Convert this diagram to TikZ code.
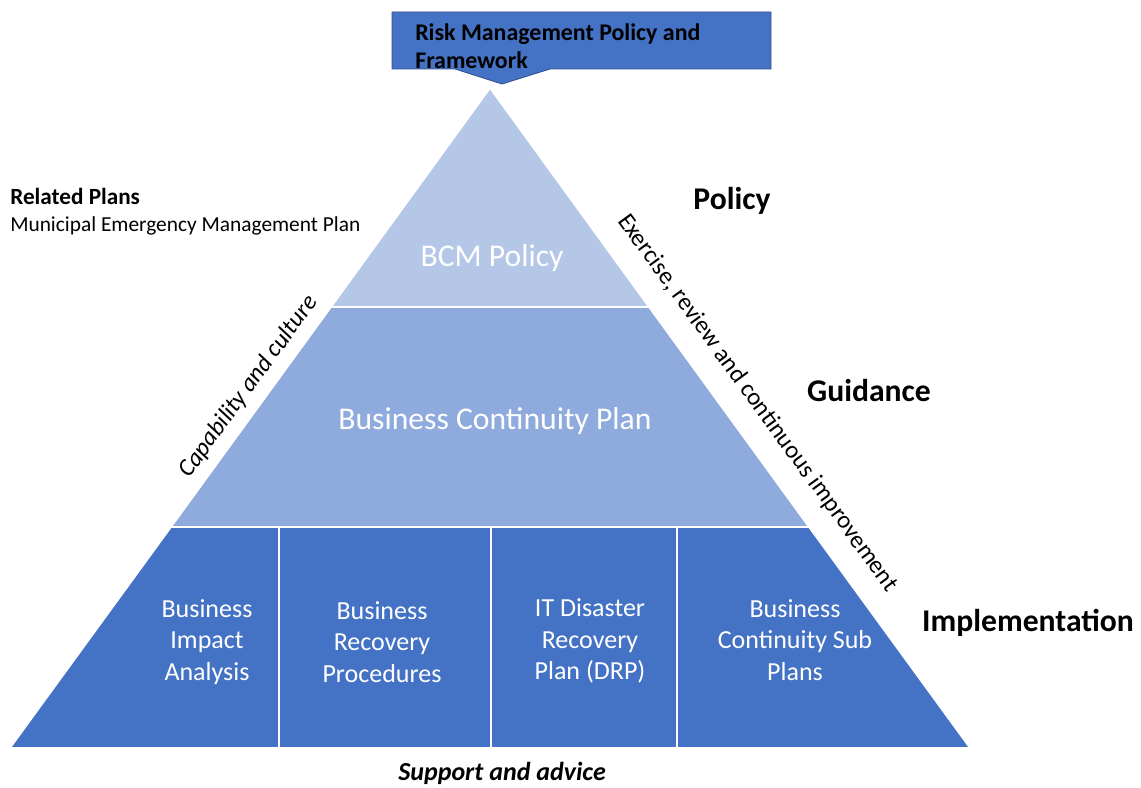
\documentclass[tikz,border=0pt]{standalone}
\usepackage{fontspec}
\setmainfont{Carlito}
\usetikzlibrary{positioning}

\definecolor{policyblue}{HTML}{B4C7E7}
\definecolor{guideblue}{HTML}{8FAADC}
\definecolor{implblue}{HTML}{4472C4}
\definecolor{edgeblue}{HTML}{2F528F}

\begin{document}
\begin{tikzpicture}[x=0.025cm, y=-0.025cm,
    tier/.style={draw=white, line width=1.2pt},
    tiertext/.style={text=white, align=center, font=\fontsize{18.5}{22.5}\selectfont},
    bigtext/.style={text=white, font=\fontsize{22.5}{27}\selectfont},
    level/.style={font=\fontsize{22.5}{27}\selectfont\bfseries},
    side/.style={font=\fontsize{17.5}{21}\selectfont},
    sideit/.style={font=\fontsize{17.5}{21}\selectfont\itshape}]
    \useasboundingbox (0,0) rectangle (1141,787);

    % Corners of the pyramid
    \coordinate (apex) at (490,88);
    \coordinate (baseL) at (10,748);
    \coordinate (baseR) at (970,748);

    % Top tier
    \draw[tier, fill=policyblue] (apex) -- (331,307) -- (649,307) -- cycle;

    % Middle tier
    \draw[tier, fill=guideblue] (331,307) -- (171,527) -- (809,527) -- (649,307) -- cycle;

    % Bottom tier, split in four
    \draw[tier, fill=implblue] (171,527) -- (baseL) -- (baseR) -- (809,527) -- cycle;
    \foreach \x in {279,491,677}
        \draw[tier] (\x,527) -- (\x,748);

    % Tier texts
    \node[bigtext] (bcm) at (492,258) {BCM Policy};
    \node[bigtext] (bcp) at (495,421) {Business Continuity Plan};
    \node[tiertext] (bia) at (207,642) {Business\\Impact\\Analysis};
    \node[tiertext] (brp) at (382,642) {Business\\Recovery\\Procedures};
    \node[tiertext] (drp) at (590,641) {IT Disaster\\Recovery\\Plan (DRP)};
    \node[tiertext] (bcsp) at (795,640) {Business\\Continuity Sub\\Plans};

    % Levels on the right
    \node[level] (policy) at (732,201) {Policy};
    \node[level] (guidance) at (869,391) {Guidance};
    \node[level] (impl) at (1028,623) {Implementation};

    % Texts along the sides
    \path (baseL) -- (apex) node[sideit, sloped, above=3pt, pos=0.53] (capability) {Capability and culture};
    \path (apex) -- (baseR) node[side, sloped, above=11pt, pos=0.505] (exercise) {Exercise, review and continuous improvement};
    \node[font=\fontsize{18.5}{22}\selectfont\bfseries\itshape] (support) at (502,773) {Support and advice};

    % Related plans
    \node[anchor=base west, inner sep=0, font=\fontsize{16.5}{20}\selectfont\bfseries] (related) at (10,205) {Related Plans};
    \node[anchor=base west, inner sep=0, font=\fontsize{15.2}{18}\selectfont] (municipal) at (10,232) {Municipal Emergency Management Plan};

    % Callout on top
    \draw[draw=edgeblue, fill=implblue, line width=0.6pt] (392,12) -- (771,12) -- (771,69) -- (550,69) -- (502,84) -- (455,69) -- (392,69) -- cycle;
    \node[anchor=base west, inner sep=0, align=left, font=\fontsize{17}{20}\selectfont\bfseries] (framework) at (415,69) {Risk Management Policy and\\Framework};
\end{tikzpicture}
\end{document}
